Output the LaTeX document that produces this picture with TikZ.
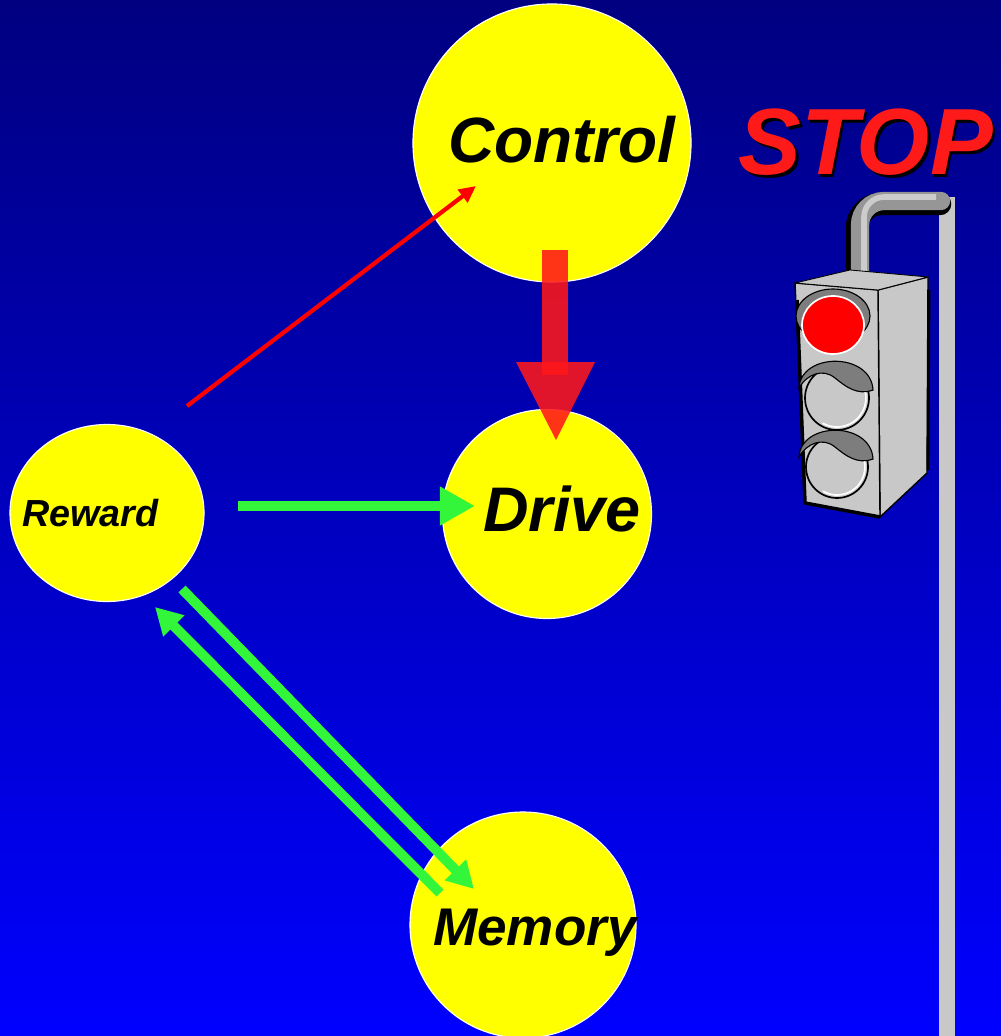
\documentclass[tikz,border=0pt]{standalone}
\usepackage{fontspec}
\setmainfont{Liberation Sans}
\usetikzlibrary{arrows.meta,shapes.geometric}
\definecolor{navytop}{RGB}{0,0,128}
\definecolor{bluebot}{RGB}{0,0,255}
\definecolor{blobyellow}{RGB}{255,255,0}
\definecolor{arrowgreen}{RGB}{51,245,58}
\definecolor{blockred}{RGB}{255,23,25}
\definecolor{stopred}{RGB}{255,26,26}
\definecolor{lampgray}{RGB}{200,200,200}
\definecolor{visorgray}{RGB}{125,125,125}
\definecolor{pipegray}{RGB}{150,150,150}
\tikzset{
	blob/.style={draw=white, line width=0.8pt, fill=blobyellow, inner sep=0pt, outer sep=0pt},
	word/.style={anchor=base west, inner sep=0pt},
	greenarrow/.style={draw=arrowgreen, line width=7pt, -{Triangle[length=19pt,width=20pt]}},
}
\def\lamp(#1)(#2){%
	\begin{scope}[shift={(#1)}]
		\filldraw[fill=lampgray, draw=black, line width=1.2pt] (0,0) circle (#2);
		\draw[white, line width=1.2pt] (0,0) ++(-40:{#2-3}) arc (-40:120:{#2-3});
		\filldraw[fill=visorgray, draw=black, line width=0.8pt] (-38,-10) .. controls (-36,-46) and (34,-46) .. (36,-8) .. controls (20,-2) and (8,-12) .. (-2,-20) .. controls (-14,-30) and (-30,-24) .. (-38,-10) -- cycle;
	\end{scope}}
% black drop shadow behind a word
\def\shadowed#1{\rlap{\hspace{2pt}\raisebox{-2pt}{\color{black}#1}}#1}

\begin{document}
\begin{tikzpicture}[x=0.025cm, y=-0.025cm]
	%%%%% START %%%%%
	
	\useasboundingbox (0,0) rectangle (1001,1036);
	\shade[top color=navytop, bottom color=bluebot] (0,0) rectangle (1001,1036);
	
	\node[blob, circle, minimum size=6.95cm] (control) at (552,143) {};
	\node[blob, circle, minimum size=5.225cm] (drive) at (547,514) {};
	\node[blob, ellipse, minimum width=4.85cm, minimum height=4.425cm] (reward) at (107,513) {};
	\node[blob, circle, minimum size=5.65cm] (memory) at (523,925) {};
	
	\node[word, font=\fontsize{45.5}{50}\selectfont\bfseries\itshape] (controltext) at (448,163) {Control};
	\node[word, font=\fontsize{44.8}{50}\selectfont\bfseries\itshape] (drivetext) at (483,531) {Drive};
	\node[word, font=\fontsize{37.7}{42}\selectfont\bfseries\itshape] (memorytext) at (433,945) {Memory};
	\node[word, font=\fontsize{26.8}{30}\selectfont\bfseries\itshape] (rewardtext) at (22,526) {Reward};
	
	% block arrow from control down into drive
	\fill[blockred, opacity=0.88] (542,250) rectangle (568,375);
	\fill[blockred, opacity=0.88] (516,362) -- (595,362) -- (556,440) -- cycle;
	
	\coordinate (redtail) at (187,406);
	\coordinate (redtip) at (476,186);
	\draw[red, line width=3pt, -{Triangle[length=12pt,width=11pt]}] (redtail) -- (redtip);
	
	\coordinate (drivetail) at (238,506);
	\coordinate (drivetip) at (475,506);
	\draw[greenarrow, -{Triangle[length=25pt,width=26pt]}] (drivetail) -- (drivetip);
	
	\coordinate (downtail) at (182,589);
	\coordinate (downtip) at (474,889);
	\draw[greenarrow] (downtail) -- (downtip);
	
	\coordinate (uptail) at (440,893);
	\coordinate (uptip) at (155,607);
	\draw[greenarrow] (uptail) -- (uptip);
	
	% traffic light
	\node[word, font=\fontsize{66.9}{70}\selectfont\bfseries\itshape, text=stopred] (stoptext) at (738,175) {\shadowed{STOP}};
	
	\fill[lampgray] (939,197) rectangle (955,1036);
	\draw[black, line width=16pt, rounded corners=0.6cm, line cap=round] (857,290) -- (857,204) -- (940,204);
	\draw[pipegray, line width=13pt, rounded corners=0.6cm, line cap=round] (860,290) -- (860,201) -- (941,201);
	\draw[gray!40, line width=4pt, rounded corners=0.5cm] (864,285) -- (864,197) -- (936,197);
	
	\filldraw[fill=lampgray, draw=black, line width=1pt, line join=round] (878,290) -- (928,277) -- (927,473) -- (880,517) -- cycle;
	\filldraw[fill=lampgray, draw=black, line width=1pt, line join=round] (795,283) -- (878,290) -- (880,517) -- (805,503) -- cycle;
	\filldraw[fill=lampgray, draw=black, line width=0.6pt, line join=round] (795,283) -- (850,270) -- (928,277) -- (878,290) -- cycle;
	\draw[line width=2.5pt, line join=round] (797,300) -- (805,503) -- (880,517);
	\draw[line width=2pt] (929,290) -- (928,470);
	
	\filldraw[fill=visorgray, draw=black, line width=0.8pt] (833,316) ellipse (37 and 27);
	\filldraw[fill=red, draw=white, line width=1.2pt] (833,325) ellipse (31 and 29);
	\lamp(837,398)(32)
	\lamp(837,467)(31)
	
	%%%%% END %%%%%
\end{tikzpicture}
\end{document}
